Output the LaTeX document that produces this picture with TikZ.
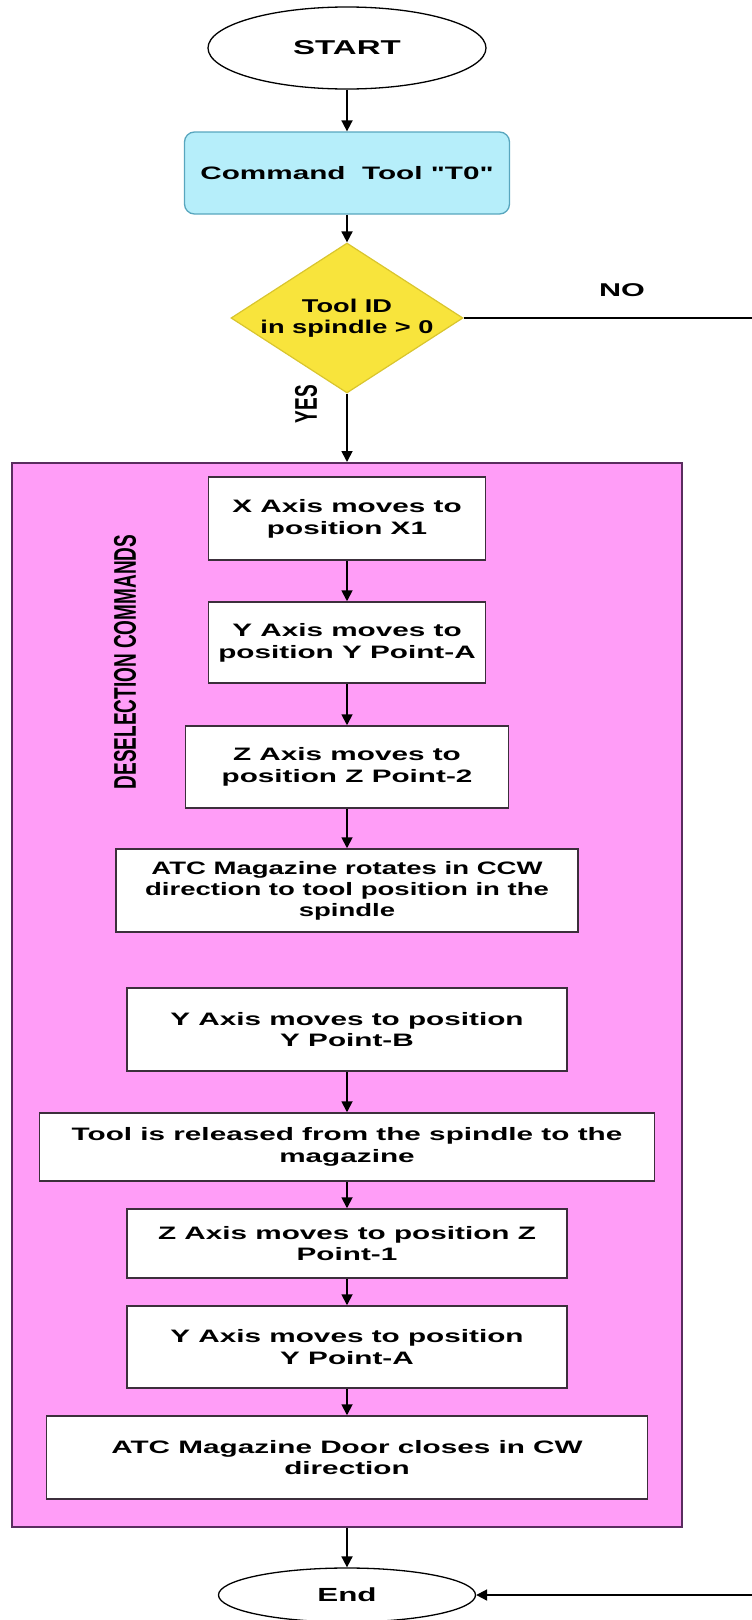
\documentclass[tikz,border=0pt]{standalone}
\usepackage{fontspec}
\setmainfont{Liberation Sans}
\newfontfamily\wf{Liberation Sans}[FakeStretch=1.65]
\newfontfamily\wfc{Liberation Sans}[FakeStretch=1.53]
\newfontfamily\wfd{Liberation Sans}[FakeStretch=1.47]
\usetikzlibrary{shapes.geometric,arrows.meta}
\definecolor{pinkfill}{HTML}{FF9DF7}
\definecolor{pinkline}{HTML}{5A2D5F}
\definecolor{boxline}{HTML}{3C2F3C}
\definecolor{cyanfill}{HTML}{B6EEFA}
\definecolor{cyanline}{HTML}{58A6BE}
\definecolor{yelfill}{HTML}{F8E43C}
\definecolor{yelline}{HTML}{D9C52E}
\tikzset{
  stepbox/.style={draw=boxline, fill=white, line width=1.5pt, align=center, inner sep=0pt,
    font=\wf\bfseries\fontsize{18pt}{21.7pt}\selectfont},
  term/.style={ellipse, draw=black, fill=white, line width=1.3pt, inner sep=0pt,
    font=\wf\bfseries\fontsize{20pt}{24pt}\selectfont},
  conn/.style={-{Triangle[length=11pt,width=11pt]}, line width=1.8pt, draw=black},
  plainline/.style={line width=1.8pt, draw=black},
  vlabel/.style={rotate=90, inner sep=0pt, font=\bfseries\fontsize{19pt}{22pt}\selectfont}
}
\begin{document}
\begin{tikzpicture}[x=1pt,y=-1pt]
\useasboundingbox (0,0) rectangle (752,1620);
% group background
\node[draw=pinkline, fill=pinkfill, line width=2pt, minimum width=670pt, minimum height=1064pt, inner sep=0pt] (grp) at (347,995) {};
\node[vlabel] (desel) at (125,662) {\scalebox{1}[1.65]{DESELECTION COMMANDS}};

\node[term, minimum width=278pt, minimum height=82pt] (start) at (347,48) {START};
\node[draw=cyanline, fill=cyanfill, line width=1.3pt, rounded corners=10pt, minimum width=325pt, minimum height=82pt, inner sep=0pt,
  font=\wf\bfseries\fontsize{18pt}{21.7pt}\selectfont] (cmd) at (347,173) {Command\ \ Tool "T0"};
\node[diamond, draw=yelline, fill=yelfill, line width=1.2pt, minimum width=232pt, minimum height=150pt, inner sep=0pt] (dec) at (347,318) {};
\node[align=center, inner sep=0pt, font=\wfd\bfseries\fontsize{18.5pt}{21pt}\selectfont] (dectext) at (347,318) {Tool ID\\in spindle > 0};
\node[inner sep=0pt, font=\wf\bfseries\fontsize{18.5pt}{22pt}\selectfont] (nolab) at (622,290) {NO};
\node[vlabel] (yeslab) at (306,404) {\scalebox{1}[1.65]{YES}};

\node[stepbox, minimum width=277pt, minimum height=83pt] (b1) at (347,518.5) {X Axis moves to\\position X1};
\node[stepbox, minimum width=277pt, minimum height=81pt] (b2) at (347,642.5) {Y Axis moves to\\position Y Point-A};
\node[stepbox, minimum width=323pt, minimum height=82pt] (b3) at (347,767) {Z Axis moves to\\position Z Point-2};
\node[stepbox, minimum width=462pt, minimum height=83pt, font=\wfc\bfseries\fontsize{18pt}{21pt}\selectfont] (b4) at (347,890.5) {ATC Magazine rotates in CCW\\direction to tool position in the\\spindle};
\node[stepbox, minimum width=440pt, minimum height=83pt] (b5) at (347,1029.5) {Y Axis moves to position\\Y Point-B};
\node[stepbox, minimum width=615pt, minimum height=68pt] (b6) at (347,1147) {Tool is released from the spindle to the\\magazine};
\node[stepbox, minimum width=440pt, minimum height=69pt] (b7) at (347,1243.5) {Z Axis moves to position Z\\Point-1};
\node[stepbox, minimum width=440pt, minimum height=82pt] (b8) at (347,1347) {Y Axis moves to position\\Y Point-A};
\node[stepbox, minimum width=601pt, minimum height=83pt] (b9) at (347,1457.5) {ATC Magazine Door closes in CW\\direction};

\node[term, minimum width=257pt, minimum height=54pt, font=\wf\bfseries\fontsize{19pt}{22pt}\selectfont] (endn) at (347,1595) {End};

\coordinate (noend) at (752,318);
\coordinate (retstart) at (752,1595);

\draw[conn] (start.south) -- (cmd.north);
\draw[conn] (cmd.south) -- (dec.north);
\draw[conn] (dec.south) -- (grp.north);
\draw[plainline] (dec.east) -- (noend);
\draw[conn] (b1.south) -- (b2.north);
\draw[conn] (b2.south) -- (b3.north);
\draw[conn] (b3.south) -- (b4.north);
\draw[conn] (b5.south) -- (b6.north);
\draw[conn] (b6.south) -- (b7.north);
\draw[conn] (b7.south) -- (b8.north);
\draw[conn] (b8.south) -- (b9.north);
\draw[conn] (grp.south) -- (endn.north);
\draw[conn] (retstart) -- (endn.east);
\end{tikzpicture}
\end{document}
